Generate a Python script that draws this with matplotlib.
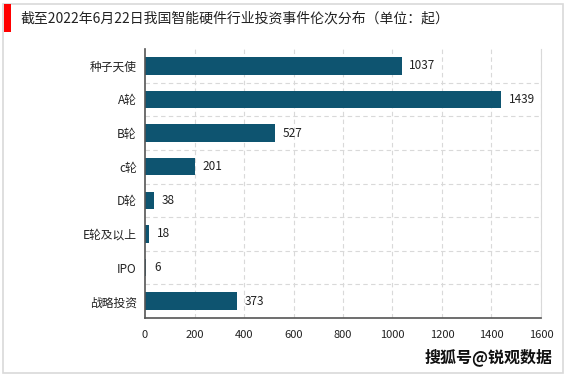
import matplotlib
matplotlib.use("Agg")
import matplotlib.pyplot as plt
from matplotlib.patches import Rectangle

plt.rcParams['font.family'] = ['Noto Sans CJK SC', 'DejaVu Sans']

categories = ["种子天使", "A轮", "B轮", "c轮", "D轮", "E轮及以上", "IPO", "战略投资"]
values = [1037, 1439, 527, 201, 38, 18, 6, 373]
xticks = [0, 200, 400, 600, 800, 1000, 1200, 1400, 1600]
title = "截至2022年6月22日我国智能硬件行业投资事件伦次分布（单位：起）"
watermark = "搜狐号@锐观数据"

W, H = 567, 378
fig = plt.figure(figsize=(W / 100, H / 100), dpi=100)
fig.patch.set_facecolor("white")

# outer border
fig.add_artist(Rectangle((3 / W, 5 / H), 560 / W, 369 / H, transform=fig.transFigure,
                         fill=False, edgecolor="#d9d9d9", linewidth=1.2))
# red marker
fig.add_artist(Rectangle((4 / W, (H - 32) / H), 7 / W, 28 / H, transform=fig.transFigure,
                         facecolor="#ff0000", edgecolor="none"))
fig.text(20 / W, (H - 19) / H, title, fontsize=10, va="center", ha="left", color="#222222")

ax = fig.add_axes([145 / W, (H - 318) / H, (541 - 145) / W, (318 - 49) / H])
y = list(range(len(categories)))
ax.barh(y, values, height=0.52, color="#0e5470")
ax.set_ylim(len(categories) - 0.5, -0.5)
ax.set_xlim(0, 1600)
ax.set_xticks(xticks)
ax.set_xticklabels([str(t) for t in xticks], fontsize=8, color="#222222")
ax.set_yticks(y)
ax.set_yticklabels(categories, fontsize=8.5, color="#222222")
ax.tick_params(axis="both", length=0, pad=6)
ax.tick_params(axis="x", pad=9)

for t in xticks[1:]:
    ax.axvline(t, color="#d9d9d9", linestyle=(0, (4, 3)), linewidth=0.8, zorder=0)
for b in range(len(categories) - 1):
    ax.axhline(b + 0.5, color="#d9d9d9", linestyle=(0, (4, 3)), linewidth=0.8, zorder=0)

for yi, v in zip(y, values):
    ax.text(v + 30, yi, str(v), va="center", ha="left", fontsize=8.5, color="#222222")

for s in ["left", "bottom"]:
    ax.spines[s].set_color("#555555")
    ax.spines[s].set_linewidth(1.2)
ax.spines["right"].set_color("#d9d9d9")
ax.spines["top"].set_visible(False)

fig.text(553 / W, (H - 357) / H, watermark, fontsize=11.5, va="center", ha="right",
         color="#111111", fontweight="bold")

fig.savefig("out.png", dpi=100)
